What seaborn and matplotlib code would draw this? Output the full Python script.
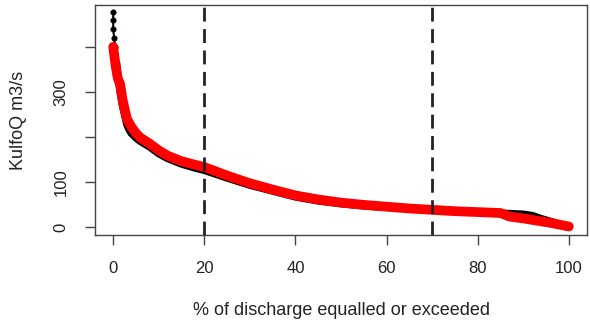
import numpy as np
import pandas as pd
import matplotlib
matplotlib.use("Agg")
import matplotlib.pyplot as plt
import seaborn as sns

# flow duration curve, observed (black) and simulated (red)
obs_pct = [0, 0, 0, 0.2, 0.4, 0.7, 1, 1.5, 2, 2.5, 3, 3.5, 4, 5, 6, 8, 10, 12, 15, 18, 20,
           25, 30, 35, 40, 45, 50, 55, 60, 65, 70, 75, 80, 85, 86, 88, 90, 92, 94, 96, 98, 100]
obs_q = [478, 460, 440, 420, 400, 365, 335, 305, 272, 250, 228, 216, 208, 198, 190, 178, 163,
         152, 140, 131, 126, 109, 93, 80, 67, 58, 52, 47, 44, 41, 38, 35, 33, 30, 30, 29, 28,
         25, 18, 12, 6, 1]

sim_pct = [0, 0.5, 1, 1.5, 2, 2.5, 3, 4, 5, 6, 8, 10, 12, 15, 18, 20, 25, 30, 35, 40, 45, 50,
           55, 60, 65, 70, 75, 80, 85, 86, 87, 90, 93, 96, 100]
sim_q = [400, 360, 330, 318, 285, 262, 240, 222, 208, 198, 185, 170, 158, 146, 138, 133, 114,
         97, 83, 70, 61, 54, 49, 45, 41, 38, 35, 33, 31, 27, 23, 19, 14, 9, 1]

vlines = [20, 70]
yticks = [0, 100, 200, 300, 400]
ytick_labels = ["0", "100", "", "300", ""]
xticks = [0, 20, 40, 60, 80, 100]

df_obs = pd.DataFrame({"pct": obs_pct, "q": obs_q})
df_sim = pd.DataFrame({"pct": sim_pct, "q": sim_q})

sns.set_style("white")
plt.rcParams["font.family"] = ["Liberation Sans", "DejaVu Sans"]
txt = "#222222"

fig = plt.figure(figsize=(5.9, 3.32), dpi=100)
ax = fig.add_axes([0.161, 0.292, 0.834, 0.693])

# sparse peak points drawn thin, the dense rest as a thick band
sns.lineplot(data=df_obs.iloc[:6], x="pct", y="q", ax=ax, color="black", linewidth=1.5,
             sort=False, estimator=None, zorder=2)
sns.scatterplot(data=df_obs.iloc[:6], x="pct", y="q", ax=ax, color="black", s=16,
                marker="o", edgecolor="black", zorder=3)
sns.lineplot(data=df_obs.iloc[5:], x="pct", y="q", ax=ax, color="black", linewidth=5.5,
             sort=False, estimator=None, zorder=2)
sns.lineplot(data=df_sim, x="pct", y="q", ax=ax, color="#ff0000", linewidth=7,
             sort=False, estimator=None, zorder=4)

for v in vlines:
    ax.axvline(v, color="#222222", linestyle=(0, (5, 2.7)), linewidth=2, zorder=5)

ax.set_xlim(-4, 104)
ax.set_ylim(-18, 493)
ax.set_xticks(xticks)
ax.set_yticks(yticks)
ax.set_yticklabels(ytick_labels, rotation=90, va="center")
ax.tick_params(axis="both", direction="out", length=7.5, width=1, color="#444444",
               labelsize=12, labelcolor=txt, bottom=True, left=True)
ax.tick_params(axis="x", pad=11)
ax.tick_params(axis="y", pad=11.5)
for s in ax.spines.values():
    s.set_color("#444444")
    s.set_linewidth(1)

ax.set_xlabel("% of discharge equalled or exceeded", fontsize=13, color=txt, labelpad=19)
ax.set_ylabel("KulfoQ m3/s", fontsize=13, color=txt, labelpad=19)

fig.savefig("out.png", dpi=100)
